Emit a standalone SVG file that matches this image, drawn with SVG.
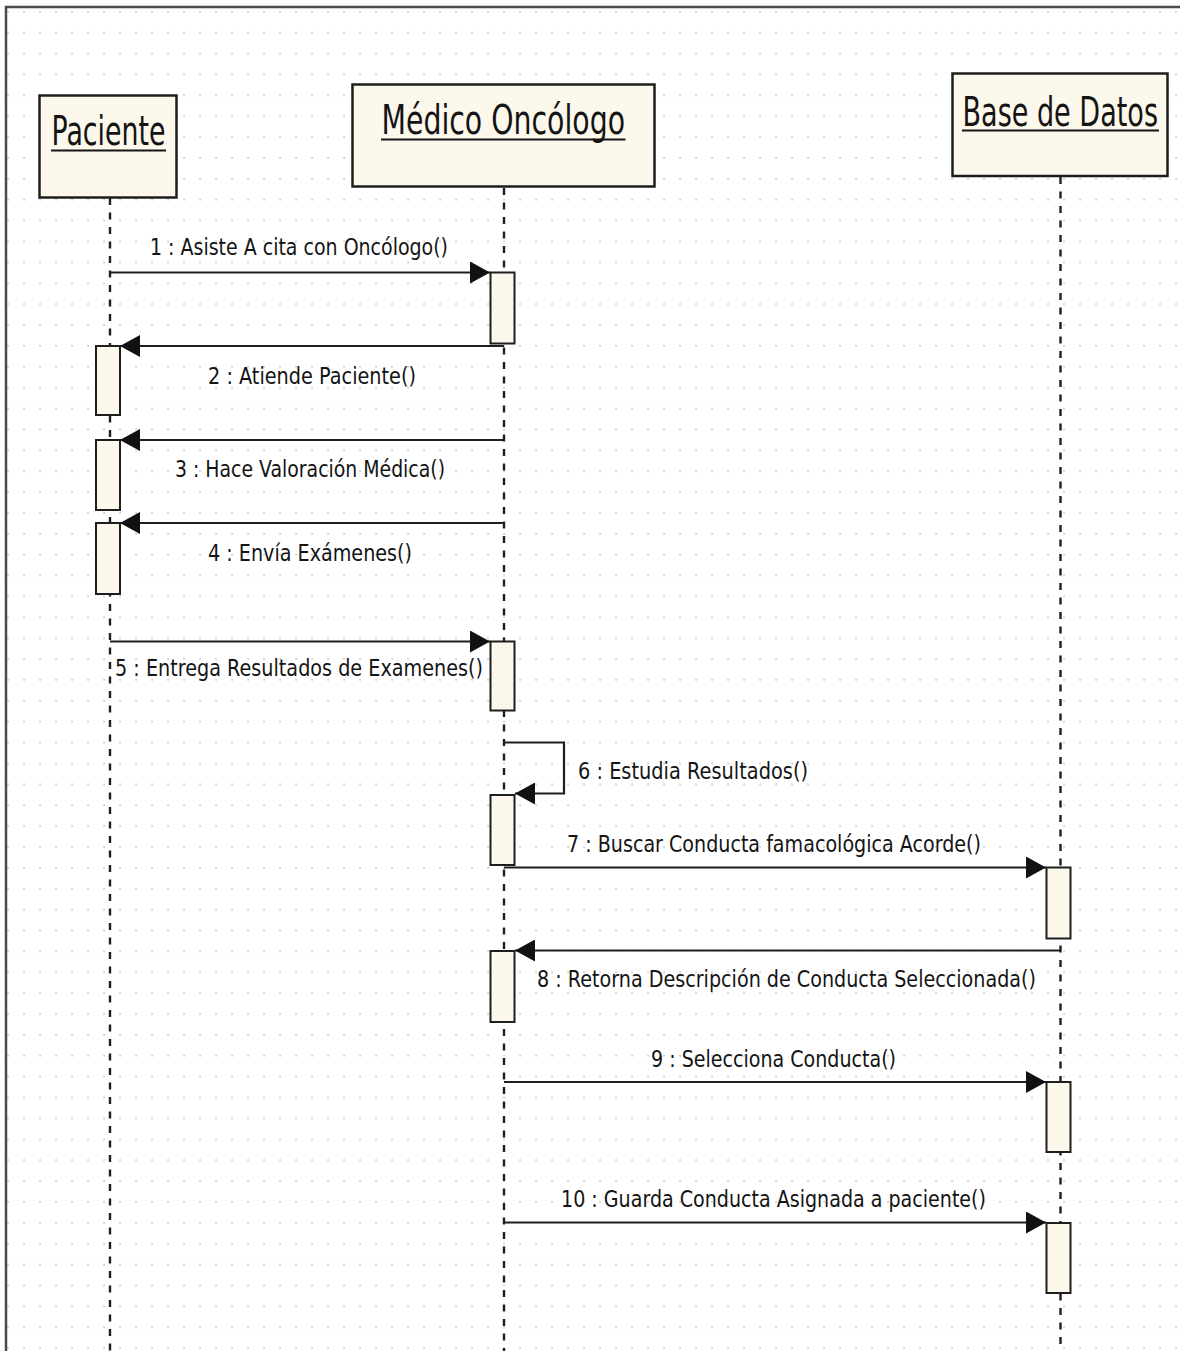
<svg xmlns="http://www.w3.org/2000/svg" width="1180" height="1351" viewBox="0 0 1180 1351">
  <style>
    .frame { fill: none; stroke: #4a4a4a; stroke-width: 2.5; }
    .head { fill: #fdf8ec; stroke: #1e1e1e; stroke-width: 2.5; }
    .act { fill: #fdf8ec; stroke: #1e1e1e; stroke-width: 2; }
    .life { fill: none; stroke: #1e1e1e; stroke-width: 2.4; stroke-dasharray: 7 7.5; }
    .msg { fill: none; stroke: #1e1e1e; stroke-width: 2.2; marker-end: url(#arrow); }
    .self { fill: none; stroke: #1e1e1e; stroke-width: 2.2; marker-end: url(#arrow); }
    .title { font-family: "DejaVu Sans", "Liberation Sans", sans-serif; font-size: 41px; fill: #141414; }
    .uline { stroke: #141414; stroke-width: 2.2; }
    .label { font-family: "DejaVu Sans", "Liberation Sans", sans-serif; font-size: 23.5px; fill: #141414; }
  </style>
  <defs>
    <pattern id="grid" patternUnits="userSpaceOnUse" x="0" y="0" width="16" height="20.88">
      <rect x="7.3" y="11" width="1.5" height="1.5" fill="#b8b8b8"/>
    </pattern>
    <marker id="arrow" markerUnits="userSpaceOnUse" viewBox="0 0 20 22" markerWidth="20" markerHeight="22" refX="20" refY="11" orient="auto">
      <path d="M0,0 L20,11 L0,22 Z" fill="#111"/>
    </marker>
  </defs>

  <!-- canvas and dotted grid -->
  <rect x="0" y="0" width="1180" height="1351" fill="#ffffff"/>
  <rect x="7" y="8" width="1173" height="1343" fill="url(#grid)"/>
  <path class="frame" d="M6,1351 V7 H1180"/>

  <!-- lifelines -->
  <g id="lifelines">
    <line class="life" x1="110" y1="198" x2="110" y2="1351"/>
    <line class="life" x1="504" y1="188" x2="504" y2="1351"/>
    <line class="life" x1="1060.5" y1="177" x2="1060.5" y2="1351"/>
  </g>

  <!-- messages -->
  <g id="connectors">
    <line class="msg" x1="110" y1="272.5" x2="490" y2="272.5"/>
    <line class="msg" x1="504" y1="346" x2="120" y2="346"/>
    <line class="msg" x1="504" y1="440" x2="120" y2="440"/>
    <line class="msg" x1="504" y1="523" x2="120" y2="523"/>
    <line class="msg" x1="110" y1="641.5" x2="490" y2="641.5"/>
    <path class="self" d="M504,742.5 H564 V793.5 H515"/>
    <line class="msg" x1="504" y1="867.5" x2="1046" y2="867.5"/>
    <line class="msg" x1="1060.5" y1="950.5" x2="515" y2="950.5"/>
    <line class="msg" x1="504" y1="1082" x2="1046" y2="1082"/>
    <line class="msg" x1="504" y1="1222.5" x2="1046" y2="1222.5"/>
  </g>

  <!-- message labels -->
  <g id="labels">
    <text class="label" x="150" y="255" textLength="298" lengthAdjust="spacingAndGlyphs">1 : Asiste A cita con Oncólogo()</text>
    <text class="label" x="208" y="384" textLength="208" lengthAdjust="spacingAndGlyphs">2 : Atiende Paciente()</text>
    <text class="label" x="175" y="477" textLength="270" lengthAdjust="spacingAndGlyphs">3 : Hace Valoración Médica()</text>
    <text class="label" x="208" y="561" textLength="204" lengthAdjust="spacingAndGlyphs">4 : Envía Exámenes()</text>
    <text class="label" x="115" y="676" textLength="368" lengthAdjust="spacingAndGlyphs">5 : Entrega Resultados de Examenes()</text>
    <text class="label" x="578" y="779" textLength="230" lengthAdjust="spacingAndGlyphs">6 : Estudia Resultados()</text>
    <text class="label" x="567" y="852" textLength="414" lengthAdjust="spacingAndGlyphs">7 : Buscar Conducta famacológica Acorde()</text>
    <text class="label" x="537" y="987" textLength="499" lengthAdjust="spacingAndGlyphs">8 : Retorna Descripción de Conducta Seleccionada()</text>
    <text class="label" x="651" y="1067" textLength="245" lengthAdjust="spacingAndGlyphs">9 : Selecciona Conducta()</text>
    <text class="label" x="561" y="1207" textLength="425" lengthAdjust="spacingAndGlyphs">10 : Guarda Conducta Asignada a paciente()</text>
  </g>

  <!-- activation bars -->
  <g id="activations">
    <rect class="act" x="490.5" y="272.5" width="24" height="71"/>
    <rect class="act" x="96" y="346" width="24" height="69"/>
    <rect class="act" x="96" y="440" width="24" height="70"/>
    <rect class="act" x="96" y="523" width="24" height="71"/>
    <rect class="act" x="490.5" y="641.5" width="24" height="69"/>
    <rect class="act" x="490.5" y="795" width="24" height="70"/>
    <rect class="act" x="1046.5" y="867.5" width="24" height="71"/>
    <rect class="act" x="490.5" y="951" width="24" height="71"/>
    <rect class="act" x="1046.5" y="1082" width="24" height="70"/>
    <rect class="act" x="1046.5" y="1223" width="24" height="70"/>
  </g>

  <!-- participants -->
  <g id="paciente">
    <rect class="head" x="39.5" y="95.5" width="137" height="102"/>
    <text class="title" x="51.5" y="144.5" textLength="114" lengthAdjust="spacingAndGlyphs">Paciente</text>
    <line class="uline" x1="51" y1="150.5" x2="166" y2="150.5"/>
  </g>
  <g id="medico-oncologo">
    <rect class="head" x="352.5" y="84.5" width="302" height="102"/>
    <text class="title" x="381.5" y="133.5" textLength="243.5" lengthAdjust="spacingAndGlyphs">Médico Oncólogo</text>
    <line class="uline" x1="381" y1="139.5" x2="625.5" y2="139.5"/>
  </g>
  <g id="base-de-datos">
    <rect class="head" x="952.5" y="73.5" width="215" height="102.5"/>
    <text class="title" x="962.5" y="126" textLength="195.5" lengthAdjust="spacingAndGlyphs">Base de Datos</text>
    <line class="uline" x1="962" y1="130.5" x2="1159" y2="130.5"/>
  </g>
</svg>
